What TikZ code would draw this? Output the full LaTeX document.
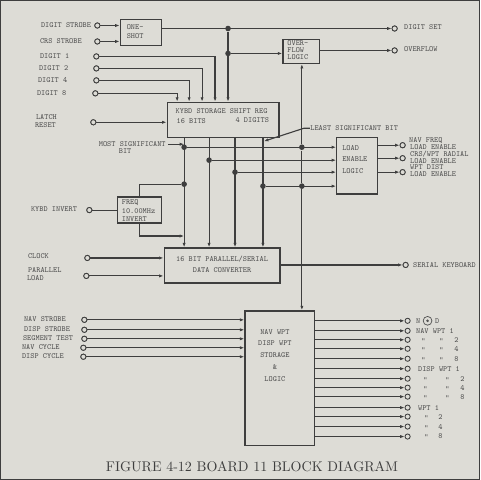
\documentclass[tikz,border=0pt]{standalone}
\usetikzlibrary{arrows.meta,fit}
\definecolor{paper}{RGB}{221,220,214}
\definecolor{wire}{RGB}{62,62,62}
\definecolor{ink}{RGB}{80,80,80}
\newcommand{\lblfont}{\ttfamily\fontsize{5.6}{6.2}\selectfont}
\begin{document}
\begin{tikzpicture}[x=0.025cm,y=-0.025cm,
  box/.style={draw=wire, line width=0.95pt, inner sep=0pt},
  port/.style={circle, draw=wire, fill=paper, inner sep=0pt, minimum size=0.13cm, line width=0.6pt},
  jdot/.style={circle, fill=wire, inner sep=0pt, minimum size=0.14cm},
  lbl/.style={font=\lblfont, text=ink, inner sep=0pt},
  arr/.style={-{Latex[length=0.11cm,width=0.08cm]}},
  every path/.style={draw=wire, line width=0.8pt}]
\fill[paper] (0,0) rectangle (480,480);
\useasboundingbox (0,0) rectangle (480,480);

% ---------- boxes ----------
\node[box, fit={(120,19) (161,45)}] (oneshot) {};
\node[box, fit={(283,39) (320,63)}] (ovf) {};
\node[box, fit={(167,102) (279,137)}] (kybd) {};
\node[box, fit={(337,137) (378,194)}] (load) {};
\node[box, fit={(117,197) (161,223)}] (freq) {};
\node[box, fit={(164,248) (280,283)}] (conv) {};
\node[box, fit={(245,311) (315,446)}] (nav) {};

% ---------- box texts ----------
\node[lbl, anchor=west] (tos1) at (126,27) {ONE-};
\node[lbl, anchor=west] (tos2) at (126,36) {SHOT};
\node[lbl, anchor=west] (tov1) at (287,43) {OVER-};
\node[lbl, anchor=west] (tov2) at (287,50) {FLOW};
\node[lbl, anchor=west] (tov3) at (287,57) {LOGIC};
\node[lbl, anchor=west] (tk1) at (175,111) {KYBD STORAGE SHIFT REG};
\node[lbl, anchor=west] (tk2) at (176,121) {16 BITS};
\node[lbl, anchor=west] (tk3) at (235,120) {4 DIGITS};
\node[lbl, anchor=west] (tl1) at (342,148) {LOAD};
\node[lbl, anchor=west] (tl2) at (342,159) {ENABLE};
\node[lbl, anchor=west] (tl3) at (342,171) {LOGIC};
\node[lbl, anchor=west] (tf1) at (121,203) {FREQ};
\node[lbl, anchor=west] (tf2) at (121,211) {10.00MHz};
\node[lbl, anchor=west] (tf3) at (121,219) {INVERT};
\node[lbl] (tc1) at (222,259) {16 BIT PARALLEL/SERIAL};
\node[lbl] (tc2) at (222,270) {DATA CONVERTER};
\node[lbl] (tn1) at (275,332) {NAV WPT};
\node[lbl] (tn2) at (275,343) {DISP WPT};
\node[lbl] (tn3) at (275,355) {STORAGE};
\node[lbl] (tn4) at (275,367) {\&};
\node[lbl] (tn5) at (275,379) {LOGIC};

% ---------- left ports & labels ----------
\node[port] (pDS) at (97,25) {};
\node[port] (pCRS) at (97,41) {};
\node[port] (pD1) at (96,56) {};
\node[port] (pD2) at (96,68) {};
\node[port] (pD4) at (96,80) {};
\node[port] (pD8) at (95,93) {};
\node[port] (pLR) at (93,122) {};
\node[port] (pKI) at (89,210) {};
\node[port] (pCK) at (87,258) {};
\node[port] (pPL) at (86,276) {};
\node[port] (pNS) at (84,320) {};
\node[port] (pDSt) at (84,330) {};
\node[port] (pST) at (84,339) {};
\node[port] (pNC) at (83,348) {};
\node[port] (pDC) at (83,357) {};

\node[lbl, anchor=west] (lDS) at (40,25) {DIGIT STROBE};
\node[lbl, anchor=west] (lCRS) at (39,41) {CRS STROBE};
\node[lbl, anchor=west] (lD1) at (39,56) {DIGIT 1};
\node[lbl, anchor=west] (lD2) at (38,68) {DIGIT 2};
\node[lbl, anchor=west] (lD4) at (37,80) {DIGIT 4};
\node[lbl, anchor=west] (lD8) at (36,93) {DIGIT 8};
\node[lbl, anchor=west] (lLR1) at (35,117) {LATCH};
\node[lbl, anchor=west] (lLR2) at (34,125) {RESET};
\node[lbl, anchor=west] (lKI) at (30,209) {KYBD INVERT};
\node[lbl, anchor=west] (lCK) at (27,256) {CLOCK};
\node[lbl, anchor=west] (lPL1) at (27,270) {PARALLEL};
\node[lbl, anchor=west] (lPL2) at (26,278) {LOAD};
\node[lbl, anchor=west] (lNS) at (23,319) {NAV STROBE};
\node[lbl, anchor=west] (lDSt) at (23,329) {DISP STROBE};
\node[lbl, anchor=west] (lST) at (22,338) {SEGMENT TEST};
\node[lbl, anchor=west] (lNC) at (21,347) {NAV CYCLE};
\node[lbl, anchor=west] (lDC) at (21,356) {DISP CYCLE};
\node[lbl, anchor=west] (msb1) at (98,144) {MOST SIGNIFICANT};
\node[lbl, anchor=west] (msb2) at (118,151) {BIT};

% ---------- right ports & labels ----------
\node[port] (pSet) at (395,28) {};
\node[port] (pOvf) at (395,50) {};
\node[port] (pL1) at (403,145) {};
\node[port] (pL2) at (403,158) {};
\node[port] (pL3) at (403,172) {};
\node[port] (pSer) at (406,265) {};
\node[lbl, anchor=west] (lSet) at (404,27) {DIGIT SET};
\node[lbl, anchor=west] (lOvf) at (404,49) {OVERFLOW};
\node[lbl, anchor=west] (lL1a) at (409,140) {NAV FREQ};
\node[lbl, anchor=west] (lL1b) at (410,147) {LOAD ENABLE};
\node[lbl, anchor=west] (lL2a) at (410,154) {CRS/WPT RADIAL};
\node[lbl, anchor=west] (lL2b) at (410,161) {LOAD ENABLE};
\node[lbl, anchor=west] (lL3a) at (410,167) {WPT DIST};
\node[lbl, anchor=west] (lL3b) at (410,174) {LOAD ENABLE};
\node[lbl, anchor=west] (lSer) at (413,265) {SERIAL KEYBOARD};
\node[lbl, anchor=west] (lsb) at (310,128) {LEAST SIGNIFICANT BIT};

% nav outputs
\foreach \yy [count=\i] in {321,331,340,349,359,369,379,388,397,408,417,427,437}{
  \node[port] (po\i) at (408,\yy) {};
  \draw[arr] (nav.east |- po\i) -- (po\i);
}
\node[lbl, anchor=west] (nN) at (416,321) {N};
\node[circle, draw=ink, line width=0.5pt, minimum size=0.22cm, inner sep=0pt] (ndc) at (428,321) {};
\node[circle, fill=ink, minimum size=0.07cm, inner sep=0pt] (ndd) at (ndc.center) {};
\node[lbl, anchor=west] (nD) at (435,321) {D};
\node[lbl, anchor=west] (o2) at (416,331) {NAV WPT 1};
\foreach \yy/\d [count=\i] in {340/2,349/4,359/8}{
  \node[lbl] (na\i) at (424,\yy+1) {"};
  \node[lbl] (nb\i) at (442,\yy+1) {"};
  \node[lbl] (nc\i) at (457,\yy) {\d};
}
\node[lbl, anchor=west] (o6) at (418,369) {DISP WPT 1};
\foreach \yy/\d [count=\i] in {379/2,388/4,397/8}{
  \node[lbl] (da\i) at (426,\yy+1) {"};
  \node[lbl] (db\i) at (448,\yy+1) {"};
  \node[lbl] (dc\i) at (463,\yy) {\d};
}
\node[lbl, anchor=west] (o10) at (418,408) {WPT 1};
\foreach \yy/\d [count=\i] in {417/2,427/4,437/8}{
  \node[lbl] (wa\i) at (427,\yy+1) {"};
  \node[lbl] (wc\i) at (441,\yy) {\d};
}

% ---------- junctions ----------
\node[jdot] (j1) at (228,28) {};
\node[jdot] (j2) at (228,53) {};
\node[jdot] (jm1) at (184,147) {};
\node[jdot] (jm2) at (184,184) {};
\node[jdot] (j3) at (209,160) {};
\node[jdot] (j4) at (235,172) {};
\node[jdot] (j5) at (263,186) {};
\node[jdot] (jr1) at (302,147) {};
\node[jdot] (jr2) at (302,186) {};
\coordinate (c215) at (215,0);
\coordinate (c202) at (202,0);
\coordinate (c189) at (189,0);
\coordinate (c177) at (177,0);
\coordinate (c236) at (0,236);
\coordinate (lsbT) at (264,141);
\coordinate (lsbK) at (304,128);

% ---------- connectors ----------
\draw[arr] (pDS) -- (pDS -| oneshot.west);
\draw[arr] (pCRS) -- (pCRS -| oneshot.west);
\draw[arr] (oneshot.east |- pSet) -- (pSet);
\draw[arr] (j1) -- (j1 |- kybd.north);
\draw[arr] (j2) -- (j2 -| ovf.west);
\draw[arr] (ovf.east |- pOvf) -- (pOvf);
\draw[arr] (pD1) -| (c215 |- kybd.north);
\draw[arr] (pD2) -| (c202 |- kybd.north);
\draw[arr] (pD4) -| (c189 |- kybd.north);
\draw[arr] (pD8) -| (c177 |- kybd.north);
\draw[arr] (pLR) -- (pLR -| kybd.west);

\draw[arr] (jm1 |- kybd.south) -- (jm1 |- conv.north);
\draw[arr] (j3 |- kybd.south) -- (j3 |- conv.north);
\draw[arr] (j4 |- kybd.south) -- (j4 |- conv.north);
\draw[arr] (j5 |- kybd.south) -- (j5 |- conv.north);
\draw[arr] (jm1) -- (jm1 -| load.west);
\draw[arr] (j3) -- (j3 -| load.west);
\draw[arr] (j4) -- (j4 -| load.west);
\draw[arr] (j5) -- (j5 -| load.west);
\draw[arr] (jr1) -- (jr1 |- ovf.south);
\draw (jr1) -- (jr2);
\draw[arr] (jr2) -- (jr2 |- nav.north);
\draw[arr] (load.east |- pL1) -- (pL1);
\draw[arr] (load.east |- pL2) -- (pL2);
\draw[arr] (load.east |- pL3) -- (pL3);

\draw[arr] ([xshift=1.5pt]msb1.east) -- (msb1.east -| jm1);
\draw[arr] (lsb.west) -- (lsbK) -- (lsbT);

\draw (jm2) -| (freq.north);
\draw[arr] (freq.south) |- (c236 -| jm2);
\draw (pKI) -- (pKI -| freq.west);

\draw[arr] (pCK) -- (pCK -| conv.west);
\draw[arr] (pPL) -- (pPL -| conv.west);
\draw[arr] (conv.east |- pSer) -- (pSer);

\draw[arr] (pNS) -- (pNS -| nav.west);
\draw[arr] (pDSt) -- (pDSt -| nav.west);
\draw[arr] (pST) -- (pST -| nav.west);
\draw[arr] (pNC) -- (pNC -| nav.west);
\draw[arr] (pDC) -- (pDC -| nav.west);

% redraw ports on top of wires
\foreach \p in {pDS,pCRS,pD1,pD2,pD4,pD8,pLR,pKI,pCK,pPL,pNS,pDSt,pST,pNC,pDC,pSet,pOvf,pL1,pL2,pL3,pSer}
  {\node[port] at (\p) {};}

% ---------- title ----------
\node[font=\rmfamily\fontsize{10}{12}\selectfont, text=wire, inner sep=0pt] (title) at (252,467) {FIGURE 4-12 BOARD 11 BLOCK DIAGRAM};
\end{tikzpicture}
\end{document}
